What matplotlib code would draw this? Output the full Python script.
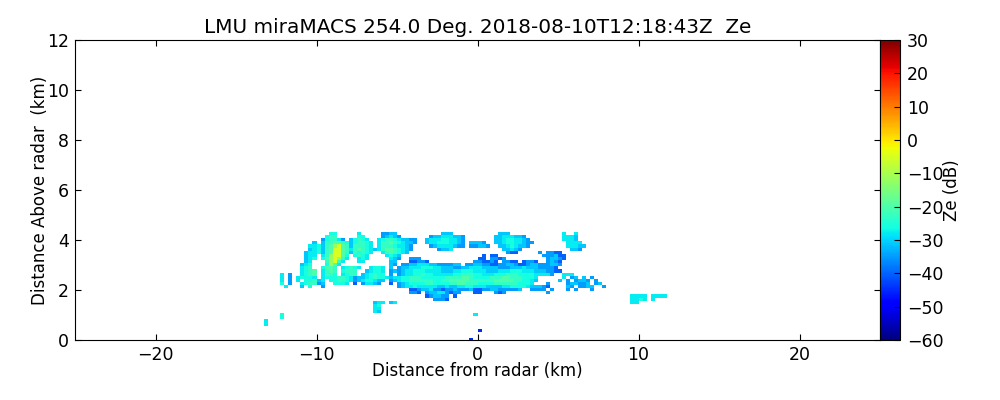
"""Reflectivity cross section from the miraMACS radar scan."""

import matplotlib

matplotlib.use("Agg")
import matplotlib.pyplot as plt
import numpy as np

TITLE = "LMU miraMACS 254.0 Deg. 2018-08-10T12:18:43Z  Ze"
X_TICKS = [-20, -10, 0, 10, 20]
Y_TICKS = [0, 2, 4, 6, 8, 10, 12]
ZE_TICKS = [-60, -50, -40, -30, -20, -10, 0, 10, 20, 30]

# gate spacing of the grid the echoes are read onto (km)
X_START = -13.25
X_STEP = 0.25
Y_TOP = 4.325
Y_STEP = 0.125
N_COLS = 102

# Ze (dB) for each code used in ECHO_ROWS
ZE_CODES = "0123456789A"
ZE_VALUES = [-52, -45, -40, -35, -31, -28, -26, -23, -20, -12, -5]

# one entry per range row from the top, each chunk is "first column:codes"
ECHO_ROWS = [
    "16:66 23:5 29:3344 44:444 58:444 74:5 77:5",
    "15:677 23:66 29:34543 41:344555443 57:44555443 74:555 77:4",
    "14:367753 21:46765 28:5677654433 40:4555665543 57:445665543 74:5554",
    "12:4 14:47788765 21:467765 28:5778765443 40:4556665543 51:4443 57:4456655433 75:5555",
    "11:556 14:4789A876 21:477765 28:577765543 41:345555433 51:33443 58:44565443 75:55544",
    "11:456 14:478AA876 21:5787654 28:578876543 43:3445 59:44543 76:444 78:3",
    "10:4556 14:478AA875 21:476765 29:5787654 60:322 68:3 70:3322",
    "10:455 14:579AA86 22:6765 30:5654 54:2 56:22 69:3 70:33422",
    "10:456 14:689A975 23:565 31:543 36:3 37:33 53:22 56:332 59:3 70:34432",
    "10:45 15:79A75 23:55 31:44 36:22332 52:3322 56:32 59:3322 64:2332 70:3432",
    "9:456 15:6985 31:43 34:334455544333344 50:33443322334432234433 70:3443",
    "9:567 14:6887 19:56765 26:5665 31:4 33:3445556665544433445554444333444544433332",
    "9:5678 14:5787 19:6777 25:45665 31:34 33:34556665555444556665554445556665554443322",
    "4:5 6:3 9:5678 14:577 17:6 19:5677 24:456766 31:3 33:345566766555556677766555666777666655553 74:55 76:5",
    "4:5 6:3 8:56 10:66 12:5 14:56 16:667765 22:34 24:4567665 31:4556677766666677778876666777887776665 74:5 76:34 79:4 81:3",
    "4:5 6:3 8:5 10:667 13:4 14:5 16:667765 22:3 23:4566544 31:3456677777766778888877777788888776654 73:4 75:3 77:3443 82:3",
    "4:6 6:3 9:5 10:677 13:3 14:4 17:6665 22:2 24:35543 31:2 33:3456666776666778877766667777776665 70:3 75:344334 82:34",
    "5:5 9:4 11:6 14:3 33:34556555554454455665554444556666544432 75:43 78:3344 84:3",
    "36:22 38:3445333 44:2334 48:33344333 52:223344332 58:3 60:3 61:334 66:3333 71:3 75:3 77:3 81:3",
    "36:3 37:32 40:344553 46:233 52:22 57:323 70:3",
    "40:2 41:344 44:32 45:3 47:2 91:555 94:5 96:55 98:55",
    "42:3 43:33 45:2 91:556 94:5 96:5",
    "27:45 29:5 31:4 32:5 91:55",
    "27:56",
    "27:55",
    "27:54",
    "4:6 52:5",
    "4:6",
    "0:5",
    "0:5",
    "",
    "53:1",
    "",
    "",
    "51:1",
]


def build_ze_grid() -> np.ma.MaskedArray:
    grid = np.full((len(ECHO_ROWS), N_COLS), np.nan)
    for row, chunks in enumerate(ECHO_ROWS):
        for chunk in chunks.split():
            first, codes = chunk.split(":")
            for offset, code in enumerate(codes):
                grid[row, int(first) + offset] = ZE_VALUES[ZE_CODES.index(code)]
    return np.ma.masked_invalid(grid)


def main() -> None:
    ze = build_ze_grid()
    x_edges = X_START + X_STEP * np.arange(N_COLS + 1)
    y_edges = Y_TOP - Y_STEP * np.arange(len(ECHO_ROWS) + 1)

    fig = plt.figure(figsize=(10, 4), dpi=100)
    ax = fig.add_axes([0.075, 0.15, 0.805, 0.75])
    cax = fig.add_axes([0.88, 0.15, 0.02, 0.75])

    mesh = ax.pcolormesh(x_edges, y_edges, ze, cmap="jet", vmin=-60, vmax=30)
    ax.set_xlim(-25, 25)
    ax.set_ylim(0, 12)
    ax.set_xticks(X_TICKS)
    ax.set_yticks(Y_TICKS)
    ax.tick_params(direction="in", top=True, right=True, length=4, labelsize=12.5, pad=4.5)
    ax.set_xlabel("Distance from radar (km)", fontsize=12, labelpad=-1.5)
    ax.set_ylabel("Distance Above radar  (km)", fontsize=12, labelpad=-1.5)
    ax.set_title(TITLE, fontsize=14.4, pad=5)

    cbar = fig.colorbar(mesh, cax=cax)
    cbar.set_ticks(ZE_TICKS)
    cbar.ax.tick_params(direction="in", length=4, labelsize=12.5, pad=5)
    cbar.set_label("Ze (dB)", fontsize=12, labelpad=-0.5)

    fig.savefig("out.png", dpi=100)


if __name__ == "__main__":
    main()
